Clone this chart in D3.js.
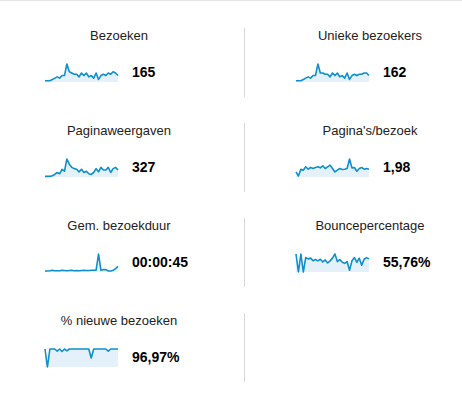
<!DOCTYPE html>
<html>
<head>
<meta charset="utf-8">
<script src="https://cdn.jsdelivr.net/npm/d3@7"></script>
<style>
  html, body { margin: 0; padding: 0; background: #fff; }
  svg { display: block; }
</style>
</head>
<body>
<div id="root"></div>
<script>
// daily values, one point per day (31 days)
const bezoeken = [1, 1, 1, 2, 3, 4, 3, 5, 5, 14, 8, 7, 6, 6, 4, 7, 5, 7, 4, 5, 3, 7, 2, 5, 6, 5, 7, 6, 8, 7, 5]
const uniekeBezoekers = [1, 1, 1, 2, 3, 4, 3, 5, 5, 14, 7, 7, 6, 6, 4, 7, 5, 7, 4, 5, 3, 7, 2, 5, 6, 5, 6, 6, 7, 7, 5]
const paginaweergaven = [1, 1, 1, 2, 4, 7, 5, 12, 9, 28, 20, 15, 13, 12, 8, 12, 7, 9, 5, 4, 7, 13, 8, 15, 11, 11, 15, 7, 13, 15, 11]
const paginasPerBezoek = [1.27, 0.25, 1.95, 1.7, 2.55, 1.95, 2.38, 2.12, 2.38, 2.55, 2.29, 2.8, 2.12, 2.55, 2.97, 2.12,
  1.27, 1.7, 2.12, 1.87, 1.95, 2.12, 4.5, 2.29, 2.38, 1.44, 2.12, 2.38, 1.95, 2.12, 1.95]
const bezoekduur = [17, 17, 20, 28, 22, 20, 20, 28, 24, 20, 24, 28, 20, 24, 20, 24, 28, 24, 24, 28, 28, 32, 300, 28,
  40, 40, 17, 17, 28, 57, 96]
const bouncepercentage = [100, 0, 100, 0, 80, 73, 77, 63, 69, 62, 71, 56, 67, 50, 62, 77, 100, 58, 69, 54, 48, 58, 10,
  62, 80, 54, 77, 38, 71, 80, 73]
const nieuweBezoeken = [100, 0, 100, 100, 100, 88, 100, 86, 100, 90, 100, 100, 100, 100, 100, 100, 100, 100, 100, 50,
  100, 100, 100, 100, 100, 100, 88, 100, 100, 100, 100]

const titles = ['Bezoeken', 'Unieke bezoekers', 'Paginaweergaven', "Pagina's/bezoek", 'Gem. bezoekduur',
  'Bouncepercentage', '% nieuwe bezoeken']
const totals = ['165', '162', '327', '1,98', '00:00:45', '55,76%', '96,97%']
const series = [bezoeken, uniekeBezoekers, paginaweergaven, paginasPerBezoek, bezoekduur, bouncepercentage,
  nieuweBezoeken]

const width = 462
const height = 413
const colStep = 251
const rowStep = 95
const sparkWidth = 73
const sparkHeight = 18

const svg = d3.select('#root').append('svg').attr('width', width).attr('height', height)

// thin border on top
svg.append('line')
  .attr('x1', 0).attr('x2', width)
  .attr('y1', 0.5).attr('y2', 0.5)
  .attr('stroke', '#e3e3e3')

// vertical separators between the two columns
svg.append('g')
  .selectAll('line')
  .data(d3.range(4))
  .join('line')
  .attr('x1', 244.5).attr('x2', 244.5)
  .attr('y1', (d) => 28 + d * rowStep)
  .attr('y2', (d) => 97 + d * rowStep)
  .attr('stroke', '#d6d6d6')

const cells = series.map((values, i) => ({
  values,
  title: titles[i],
  total: totals[i],
  col: i % 2,
  row: Math.floor(i / 2),
}))

const cell = svg.append('g')
  .selectAll('g.cell')
  .data(cells)
  .join('g')
  .attr('class', 'cell')
  .attr('transform', (d) => `translate(${d.col * colStep}, ${d.row * rowStep})`)

cell.append('text')
  .text((d) => d.title)
  .attr('x', 119)
  .attr('y', 40)
  .attr('text-anchor', 'middle')
  .attr('font-family', 'Liberation Sans, Arial, sans-serif')
  .attr('font-size', 13)
  .attr('fill', '#222')

cell.append('text')
  .text((d) => d.total)
  .attr('x', 132)
  .attr('y', 77)
  .attr('font-family', 'Liberation Sans, Arial, sans-serif')
  .attr('font-size', 14)
  .attr('font-weight', 'bold')
  .attr('fill', '#000')

cell.each(function (d) {
  const g = d3.select(this)
  const x = d3.scaleLinear().domain([0, d.values.length - 1]).range([45, 45 + sparkWidth])
  const y = d3.scaleLinear().domain([0, d3.max(d.values)]).range([82, 82 - sparkHeight])

  const area = d3.area()
    .x((v, i) => x(i))
    .y0(y(0))
    .y1((v) => y(v))
  const line = d3.line()
    .x((v, i) => x(i))
    .y((v) => y(v))

  g.append('path')
    .attr('d', area(d.values))
    .attr('fill', '#e4f0fa')
  g.append('path')
    .attr('d', line(d.values))
    .attr('fill', 'none')
    .attr('stroke', '#0f8fcc')
    .attr('stroke-width', 1.6)
    .attr('stroke-linejoin', 'round')
})
</script>
</body>
</html>
